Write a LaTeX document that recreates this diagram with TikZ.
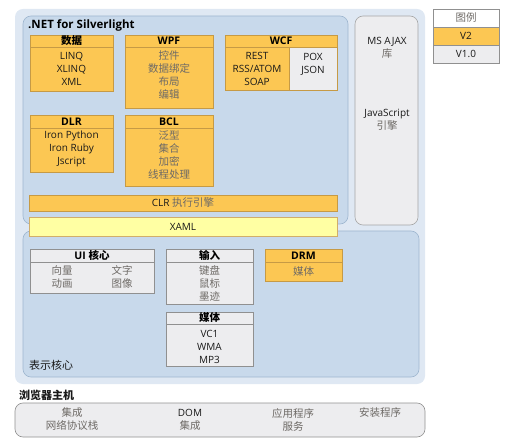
\documentclass[tikz,border=0pt]{standalone}
\usepackage{fontspec}
\setmainfont{Open Sans}
\newfontfamily\cjk{Noto Sans CJK SC}
\usetikzlibrary{shadows}
\definecolor{outerbg}{HTML}{DFE8F3}
\definecolor{innerbg}{HTML}{C8D9EB}
\definecolor{innerln}{HTML}{9EB6CF}
\definecolor{orfill}{HTML}{FCC753}
\definecolor{orline}{HTML}{C69A45}
\definecolor{grfill}{HTML}{EDEDEF}
\definecolor{grline}{HTML}{909090}
\definecolor{yelfill}{HTML}{FFFFA3}
\definecolor{cjkgray}{HTML}{6E6A66}
\newcommand\zhtxt[1]{{\cjk\fontsize{10.5}{13}\selectfont\color{cjkgray}#1}}
\begin{document}
\begin{tikzpicture}[x=1pt,y=-1pt,
  box/.style={draw, line width=0.6pt, outer sep=0pt, inner sep=0pt, anchor=north west,
    drop shadow={shadow xshift=1.3pt, shadow yshift=-1.3pt, opacity=0.35, fill=black!70}},
  orbox/.style={box, fill=orfill, draw=orline},
  grbox/.style={box, fill=grfill, draw=grline},
  txt/.style={font=\fontsize{10}{13}\selectfont, align=center, inner sep=0pt, text=black!90},
  hd/.style={font=\fontsize{10.5}{11}\selectfont\bfseries, align=center, inner sep=0pt, text=black},
  panel/.style={rounded corners=8pt, line width=0.6pt}
]
\useasboundingbox (0,0) rectangle (513,443);
% outer panel
\path[panel, fill=outerbg] (15,9) rectangle (425,384);
\node[panel, draw=innerln, fill=innerbg, anchor=north west, minimum width=325pt, minimum height=208pt, inner sep=0pt, outer sep=0pt] (net) at (23,16) {};
\node[panel, draw=grline!80, fill=grfill, anchor=north west, minimum width=63pt, minimum height=209pt, inner sep=0pt, outer sep=0pt] (ajax) at (355,16) {};
\node[panel, draw=innerln, fill=innerbg, anchor=north west, minimum width=396pt, minimum height=146pt, inner sep=0pt, outer sep=0pt] (pres) at (23,231) {};
\node[font=\fontsize{11.5}{13}\selectfont\bfseries, anchor=west, inner sep=0pt] (netlbl) at (28,25) {.NET for Silverlight};

% data
\node[orbox, minimum width=83pt, minimum height=56pt] (data) at (30,35) {};
\draw[orline] (30,47) -- (113,47);
\node[hd] (datah) at (71.5,41) {\cjk 数据};
\node[txt] (datab) at (71.5,68.5) {LINQ\\XLINQ\\XML};
% WPF
\node[orbox, minimum width=88pt, minimum height=73pt] (wpf) at (125,35) {};
\draw[orline] (125,47) -- (213,47);
\node[hd] (wpfh) at (169,41) {WPF};
\node[txt] (wpfb) at (169,75.5) {\zhtxt{控件}\\\zhtxt{数据绑定}\\\zhtxt{布局}\\\zhtxt{编辑}};
% WCF
\node[orbox, minimum width=112pt, minimum height=55pt] (wcf) at (225,35) {};
\fill[grfill] (289,47) rectangle (337,90);
\draw[orline, line width=0.6pt] (225,35) rectangle (337,90);
\draw[orline] (225,47) -- (337,47);
\draw[orline] (289,47) -- (289,90);
\node[hd] (wcfh) at (281,41) {WCF};
\node[txt] (wcfl) at (257,68.5) {REST\\RSS/ATOM\\SOAP};
\node[txt] (wcfr) at (313,64.5) {POX\\JSON};
% DLR
\node[orbox, minimum width=83pt, minimum height=57pt] (dlr) at (30,115) {};
\draw[orline] (30,128) -- (113,128);
\node[hd] (dlrh) at (71.5,121.5) {DLR};
\node[txt] (dlrb) at (71.5,149) {Iron Python\\Iron Ruby\\Jscript};
% BCL
\node[orbox, minimum width=88pt, minimum height=71pt] (bcl) at (125,115) {};
\draw[orline] (125,128) -- (213,128);
\node[hd] (bclh) at (169,121.5) {BCL};
\node[txt] (bclb) at (169,155.5) {\zhtxt{泛型}\\\zhtxt{集合}\\\zhtxt{加密}\\\zhtxt{线程处理}};
% CLR
\node[orbox, minimum width=308pt, minimum height=16pt] (clr) at (29,195) {};
\node[txt] (clrt) at (183,203) {CLR \zhtxt{执行引擎}};
% XAML
\node[box, fill=yelfill, draw=orline!80, minimum width=308pt, minimum height=19pt] (xaml) at (29,217) {};
\node[txt] (xamlt) at (183,226.5) {XAML};
% MS AJAX
\node[txt] (ajax1) at (387,48) {MS AJAX\\\zhtxt{库}};
\node[txt] (ajax2) at (387,120) {JavaScript\\\zhtxt{引擎}};

% UI core
\node[grbox, minimum width=124pt, minimum height=44pt] (ui) at (30,249) {};
\draw[grline] (30,262) -- (154,262);
\node[hd] (uih) at (92,255.5) {UI \cjk 核心};
\node[txt] (ui1) at (62,270) {\zhtxt{向量}};
\node[txt] (ui2) at (122,270) {\zhtxt{文字}};
\node[txt] (ui3) at (62,284) {\zhtxt{动画}};
\node[txt] (ui4) at (122,284) {\zhtxt{图像}};
% input
\node[grbox, minimum width=87pt, minimum height=55pt] (inp) at (166,249) {};
\draw[grline] (166,262) -- (253,262);
\node[hd] (inph) at (209.5,255.5) {\cjk 输入};
\node[txt] (inpb) at (209.5,283.5) {\zhtxt{键盘}\\\zhtxt{鼠标}\\\zhtxt{墨迹}};
% media
\node[grbox, minimum width=87pt, minimum height=54pt] (med) at (166,312) {};
\draw[grline] (166,324) -- (253,324);
\node[hd] (medh) at (209.5,318) {\cjk 媒体};
\node[txt] (medb) at (209.5,346.5) {VC1\\WMA\\MP3};
% DRM
\node[orbox, minimum width=77pt, minimum height=32pt] (drm) at (265,249) {};
\draw[orline] (265,262) -- (342,262);
\node[hd] (drmh) at (303.5,255.5) {DRM};
\node[txt] (drmb) at (303.5,271.5) {\zhtxt{媒体}};
\node[txt, anchor=west, font=\fontsize{11}{13}\selectfont] (preslbl) at (29,365) {\cjk 表示核心};

% browser host
\node[txt, anchor=west, font=\fontsize{11}{13}\selectfont\bfseries] (hostlbl) at (19,395) {\cjk 浏览器主机};
\node[panel, draw=grline, fill=grfill, anchor=north west, minimum width=410pt, minimum height=34pt, inner sep=0pt, outer sep=0pt] (host) at (15,403) {};
\node[txt] (h1) at (72,419.5) {\zhtxt{集成}\\\zhtxt{网络协议栈}};
\node[txt] (h2) at (190,419.5) {DOM\\\zhtxt{集成}};
\node[txt] (h3) at (293,419.5) {\zhtxt{应用程序}\\\zhtxt{服务}};
\node[txt] (h4) at (380,413) {\zhtxt{安装程序}};

% legend
\node[box, fill=white, draw=grline, minimum width=66pt, minimum height=54pt] (leg) at (433,9) {};
\fill[orfill] (433,27) rectangle (499,45);
\fill[grfill] (433,45) rectangle (499,63);
\draw[grline, line width=0.6pt] (433,9) rectangle (499,63);
\draw[grline] (433,27) -- (499,27);
\draw[grline] (433,45) -- (499,45);
\node[txt] (leg1) at (466,18) {\zhtxt{图例}};
\node[txt] (leg2) at (466,36) {V2};
\node[txt] (leg3) at (466,54) {V1.0};
\end{tikzpicture}
\end{document}
